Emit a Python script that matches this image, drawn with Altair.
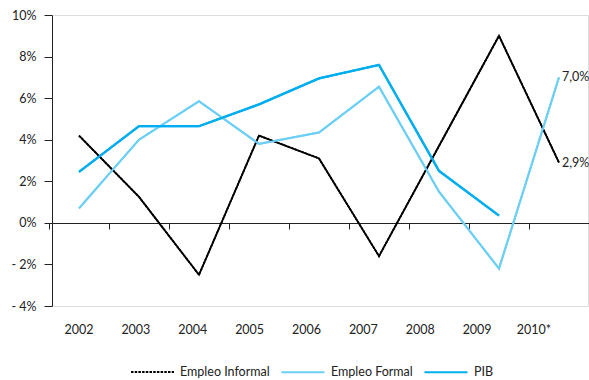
import altair as alt
import pandas as pd

years = ["2002", "2003", "2004", "2005", "2006", "2007", "2008", "2009", "2010*"]
informal = [4.2, 1.25, -2.5, 4.2, 3.1, -1.6, 3.7, 9.0, 2.9]
formal = [0.7, 4.0, 5.85, 3.8, 4.35, 6.55, 1.5, -2.2, 7.0]
pib = [2.45, 4.65, 4.65, 5.7, 6.95, 7.6, 2.5, 0.35, None]
series = ["Empleo Informal", "Empleo Formal", "PIB"]
colors = ["#000000", "#6dcff6", "#00aeef"]
widths = [1.8, 2.2, 4.2]
dashes = [[2.5, 1.2], [1, 0], [1, 0]]
end_labels = ["2,9%", "7,0%"]

rows = []
for name, vals in zip(series, [informal, formal, pib]):
    for i, (yr, v) in enumerate(zip(years, vals)):
        if v is not None:
            rows.append({"year": yr, "value": v, "series": name, "order": i})
df = pd.DataFrame(rows)

ann = pd.DataFrame({
    "year": [years[-1], years[-1]],
    "value": [informal[-1], formal[-1]],
    "label": end_labels,
})

FONT = "Lato"
xscale = alt.Scale(domain=years, range=[-3, 537], paddingInner=0, paddingOuter=0)
yscale = alt.Scale(domain=[-4, 10], nice=False, zero=False)

xaxis = alt.Axis(
    orient="bottom", offset=-83, labels=False, title=None, domain=True,
    domainColor="#222", domainWidth=1, ticks=True, tickBand="extent",
    tickColor="#222", tickSize=6, grid=False,
)
yaxis = alt.Axis(
    values=[-4, -2, 0, 2, 4, 6, 8, 10], title=None, grid=False,
    domainColor="#222", tickColor="#222", tickSize=8, labelPadding=8,
    labelFontSize=12.5, labelColor="#222", labelFont=FONT,
    labelExpr="datum.value < 0 ? '- ' + abs(datum.value) + '%' : datum.value + '%'",
)

legend = alt.Legend(
    title=None, orient="none", legendX=78, legendY=334, direction="horizontal",
    symbolType="stroke", symbolSize=1850, labelFontSize=12.5, labelFont=FONT,
    labelColor="#222", labelOffset=5, columnPadding=7,
)

color_enc = alt.Color("series:N", scale=alt.Scale(domain=series, range=colors), legend=legend, sort=series)
width_enc = alt.StrokeWidth("series:N", scale=alt.Scale(domain=series, range=widths), legend=legend, sort=series)

# dashed copy underneath (provides the dashed legend symbol), solid line drawn on top
dashed = alt.Chart(df).mark_line().encode(
    x=alt.X("year:N", scale=xscale, axis=xaxis, sort=years),
    y=alt.Y("value:Q", scale=yscale, axis=yaxis),
    color=color_enc,
    strokeWidth=width_enc,
    strokeDash=alt.StrokeDash("series:N", scale=alt.Scale(domain=series, range=dashes), legend=legend, sort=series),
    order="order:Q",
)

lines = alt.Chart(df).mark_line().encode(
    x=alt.X("year:N", scale=xscale, axis=xaxis, sort=years),
    y=alt.Y("value:Q", scale=yscale, axis=yaxis),
    color=color_enc,
    strokeWidth=width_enc,
    order="order:Q",
)

text = alt.Chart(ann).mark_text(
    align="left", baseline="middle", dx=3, fontSize=12.5, font=FONT, color="#222"
).encode(
    x=alt.X("year:N", scale=xscale, sort=years),
    y=alt.Y("value:Q", scale=yscale),
    text="label:N",
)

label_axis = alt.Chart(pd.DataFrame({"year": years})).mark_point(opacity=0).encode(
    x=alt.X("year:N", sort=years,
            scale=alt.Scale(type="point", domain=years, range=[26.5, 481.5], padding=0),
            axis=alt.Axis(orient="bottom", title=None, domain=False, ticks=False, grid=False,
                          labelPadding=23, labelFontSize=12.5, labelFont=FONT, labelColor="#222",
                          labelAngle=0, labelBaseline="middle")),
)

main = alt.layer(dashed, lines, text)
chart = alt.layer(main, label_axis).resolve_scale(x="independent").properties(
    width=536, height=291,
    autosize=alt.AutoSizeParams(type="none"),
    padding={"left": 52, "top": 15, "right": 1, "bottom": 74},
).configure_view(stroke=None).configure(background="white")

chart.save("out.html", embed_options={"renderer": "svg", "actions": False})
